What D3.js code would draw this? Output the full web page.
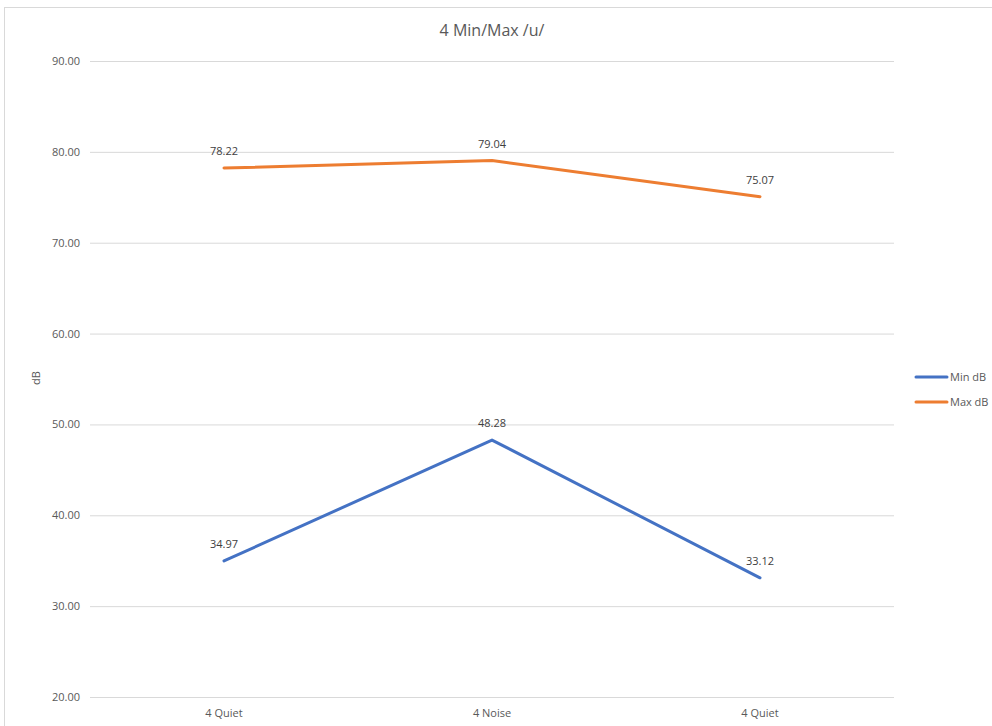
<!DOCTYPE html>
<html><head><meta charset="utf-8">
<script src="https://cdn.jsdelivr.net/npm/d3@7"></script>
<style>body{margin:0;background:#fff;font-family:Calibri,Carlito,"Open Sans","Liberation Sans",sans-serif;}</style>
</head><body>
<svg id="c" width="992" height="726"></svg>
<script>
const categories = ["4 Quiet", "4 Noise", "4 Quiet "];
const minDB = [34.97, 48.28, 33.12];
const maxDB = [78.22, 79.04, 75.07];
const yTicks = [20, 30, 40, 50, 60, 70, 80, 90];
const seriesNames = ["Min dB", "Max dB"];
const colors = ["#4472C4", "#ED7D31"];

const svg = d3.select("#c");
const font = "'Open Sans', sans-serif";
svg.append("rect").attr("x",4.5).attr("y",7.5).attr("width",1000).attr("height",730)
  .attr("fill","#fff").attr("stroke","#d9d9d9");

const m = {l:90, r:894, t:61, b:697};
const x = d3.scaleBand().domain(categories).range([m.l, m.r]);
const y = d3.scaleLinear().domain([20, 90]).range([m.b, m.t]);

svg.append("text").attr("x",492).attr("y",36).attr("text-anchor","middle")
  .attr("font-family",font).attr("font-size",16).attr("fill","#595959").text("4 Min/Max /u/");

const ga = svg.append("g").attr("transform",`translate(${m.l},0)`)
  .call(d3.axisLeft(y).tickValues(yTicks).tickSize(-(m.r-m.l)).tickPadding(10).tickFormat(d3.format(".2f")));
ga.select(".domain").remove();
ga.selectAll(".tick line").attr("stroke","#d9d9d9");
ga.selectAll(".tick text").attr("font-family",font).attr("font-size",11).attr("fill","#595959");

const gx = svg.append("g").attr("transform",`translate(0,${m.b})`)
  .call(d3.axisBottom(x).tickSize(0).tickPadding(12));
gx.select(".domain").remove();
gx.selectAll(".tick text").attr("font-family",font).attr("font-size",11).attr("fill","#595959");

svg.append("text").attr("transform","translate(40,378) rotate(-90)").attr("text-anchor","middle")
  .attr("font-family",font).attr("font-size",11).attr("fill","#595959").text("dB");

const line = d3.line().x((d,i)=>x(categories[i])+x.bandwidth()/2).y(d=>y(d));
[minDB, maxDB].forEach((s, k) => {
  svg.append("path").datum(s).attr("d", line).attr("fill","none")
    .attr("stroke", colors[k]).attr("stroke-width",3).attr("stroke-linecap","round").attr("stroke-linejoin","round");
  svg.selectAll(null).data(s).enter().append("text")
    .attr("x",(d,i)=>x(categories[i])+x.bandwidth()/2).attr("y",d=>y(d)-13)
    .attr("text-anchor","middle").attr("font-family",font).attr("font-size",11).attr("fill","#404040")
    .text(d=>d.toFixed(2));
});

const lg = svg.append("g");
seriesNames.forEach((n,k)=>{
  const yy = 377 + k*25;
  lg.append("line").attr("x1",916).attr("x2",947).attr("y1",yy).attr("y2",yy)
    .attr("stroke",colors[k]).attr("stroke-width",3).attr("stroke-linecap","round");
  lg.append("text").attr("x",950).attr("y",yy+4).attr("font-family",font).attr("font-size",11)
    .attr("fill","#595959").text(n);
});
</script>
</body></html>
